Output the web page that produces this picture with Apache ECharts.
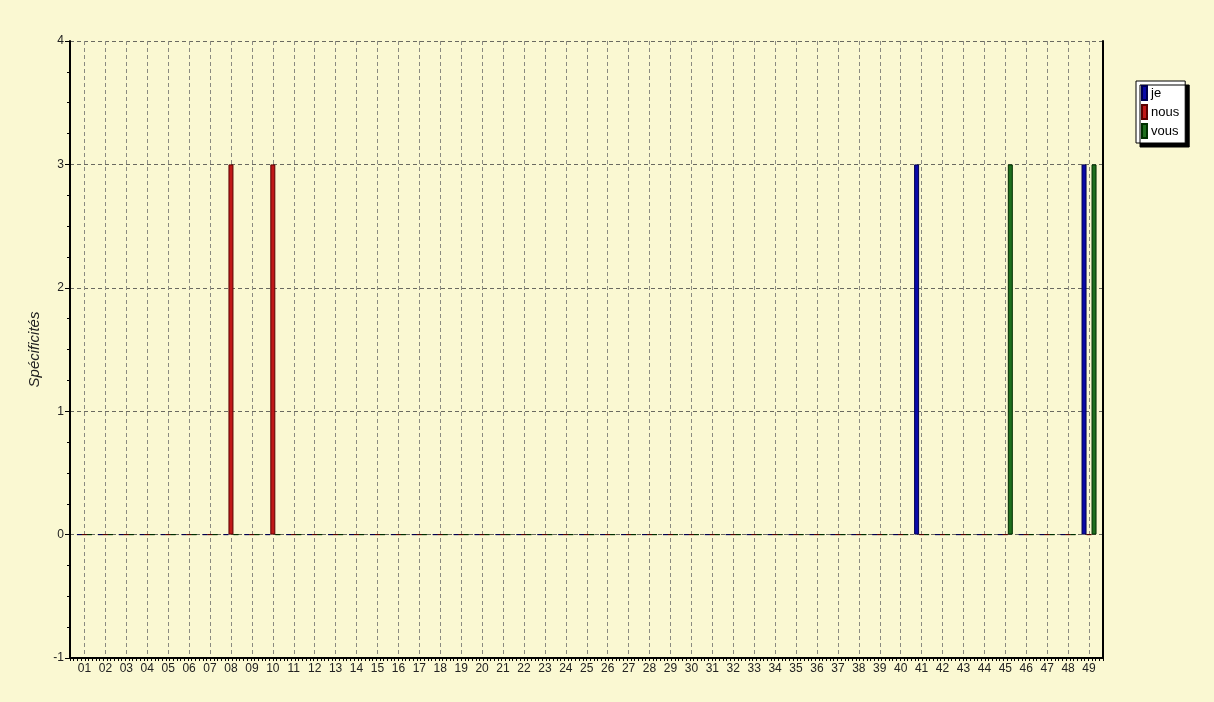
<!DOCTYPE html>
<html>
<head>
<meta charset="utf-8">
<script src="https://cdn.jsdelivr.net/npm/echarts@6/dist/echarts.min.js"></script>
<style>
  html, body { margin: 0; padding: 0; background: #FAF8D2; }
  #chart { width: 1214px; height: 702px; }
</style>
</head>
<body>
<div id="chart"></div>
<script>
// categories 01..49
const categories = ['01','02','03','04','05','06','07','08','09','10',
  '11','12','13','14','15','16','17','18','19','20',
  '21','22','23','24','25','26','27','28','29','30',
  '31','32','33','34','35','36','37','38','39','40',
  '41','42','43','44','45','46','47','48','49'];

const jeValues = [0,0,0,0,0,0,0,0,0,0, 0,0,0,0,0,0,0,0,0,0,
  0,0,0,0,0,0,0,0,0,0, 0,0,0,0,0,0,0,0,0,0, 3,0,0,0,0,0,0,0,3];
const nousValues = [0,0,0,0,0,0,0,3,0,3, 0,0,0,0,0,0,0,0,0,0,
  0,0,0,0,0,0,0,0,0,0, 0,0,0,0,0,0,0,0,0,0, 0,0,0,0,0,0,0,0,0];
const vousValues = [0,0,0,0,0,0,0,0,0,0, 0,0,0,0,0,0,0,0,0,0,
  0,0,0,0,0,0,0,0,0,0, 0,0,0,0,0,0,0,0,0,0, 0,0,0,0,3,0,0,0,3];

const yTicks = { min: -1, max: 4, interval: 1 };
const font = 'Liberation Sans, Arial, sans-serif';

const chart = echarts.init(document.getElementById('chart'), null, { renderer: 'canvas' });

function bar(name, data, fill, border) {
  return {
    name: name,
    type: 'bar',
    xAxisIndex: 1,
    yAxisIndex: 2,
    data: data,
    barWidth: 5,
    barGap: '0%',
    clip: false,
    itemStyle: { color: fill, borderColor: border, borderWidth: 1 }
  };
}

chart.setOption({
  backgroundColor: '#FAF8D2',
  animation: false,
  textStyle: { fontFamily: font },
  legend: {
    orient: 'vertical',
    left: 1136,
    top: 81,
    backgroundColor: '#ffffff',
    borderColor: '#000',
    borderWidth: 1,
    padding: [4, 6, 4, 5],
    shadowColor: '#000',
    shadowOffsetX: 4,
    shadowOffsetY: 4,
    shadowBlur: 0,
    icon: 'rect',
    itemWidth: 5,
    itemHeight: 14,
    itemGap: 3,
    textStyle: { fontSize: 13, color: '#000', padding: [0, 0, 0, -1] },
    data: ['je', 'nous', 'vous']
  },
  grid: [
    { left: 70, top: 41, width: 1033, height: 617 },
    { left: 74, top: 41, width: 1025.5, height: 617 }
  ],
  xAxis: [
    {
      gridIndex: 0, type: 'value', min: 0, max: 280, interval: 1,
      axisLine: { onZero: false, lineStyle: { color: '#000', width: 2 } },
      axisTick: { show: true, length: 3, lineStyle: { color: '#000' } },
      axisLabel: { show: false },
      splitLine: { show: false }
    },
    {
      gridIndex: 1, type: 'category', data: categories, boundaryGap: true,
      axisLine: { show: false, onZero: false },
      axisTick: { show: false },
      axisLabel: { interval: 0, fontSize: 12, color: '#222', margin: 5 },
      splitLine: { show: true, interval: 0, alignWithLabel: true,
        lineStyle: { color: '#8a8a80', type: [4, 3], width: 1 } }
    }
  ],
  yAxis: [
    {
      gridIndex: 0, type: 'value', min: yTicks.min, max: yTicks.max, interval: yTicks.interval,
      name: 'Spécificités', nameLocation: 'middle', nameGap: 22,
      nameTextStyle: { fontSize: 15, fontStyle: 'italic', color: '#222' },
      axisLine: { show: true, onZero: false, lineStyle: { color: '#000', width: 2 } },
      axisTick: { show: true, length: 5, lineStyle: { color: '#000' } },
      minorTick: { show: true, splitNumber: 4, length: 3, lineStyle: { color: '#000' } },
      axisLabel: { fontSize: 12, color: '#222', margin: 6 },
      splitLine: { show: true, lineStyle: { color: '#6a6a60', type: [4, 3], width: 1 } }
    },
    {
      gridIndex: 0, type: 'value', position: 'right', min: yTicks.min, max: yTicks.max,
      axisLine: { show: true, onZero: false, lineStyle: { color: '#000', width: 2 } },
      axisTick: { show: false }, axisLabel: { show: false }, splitLine: { show: false }
    },
    {
      gridIndex: 1, type: 'value', min: yTicks.min, max: yTicks.max, interval: yTicks.interval,
      show: false, splitLine: { show: false }
    }
  ],
  series: [
    bar('je', jeValues, '#0A0AA8', '#000050'),
    bar('nous', nousValues, '#C01818', '#5A0000'),
    bar('vous', vousValues, '#1E6E1E', '#003000')
  ]
});
</script>
</body>
</html>
